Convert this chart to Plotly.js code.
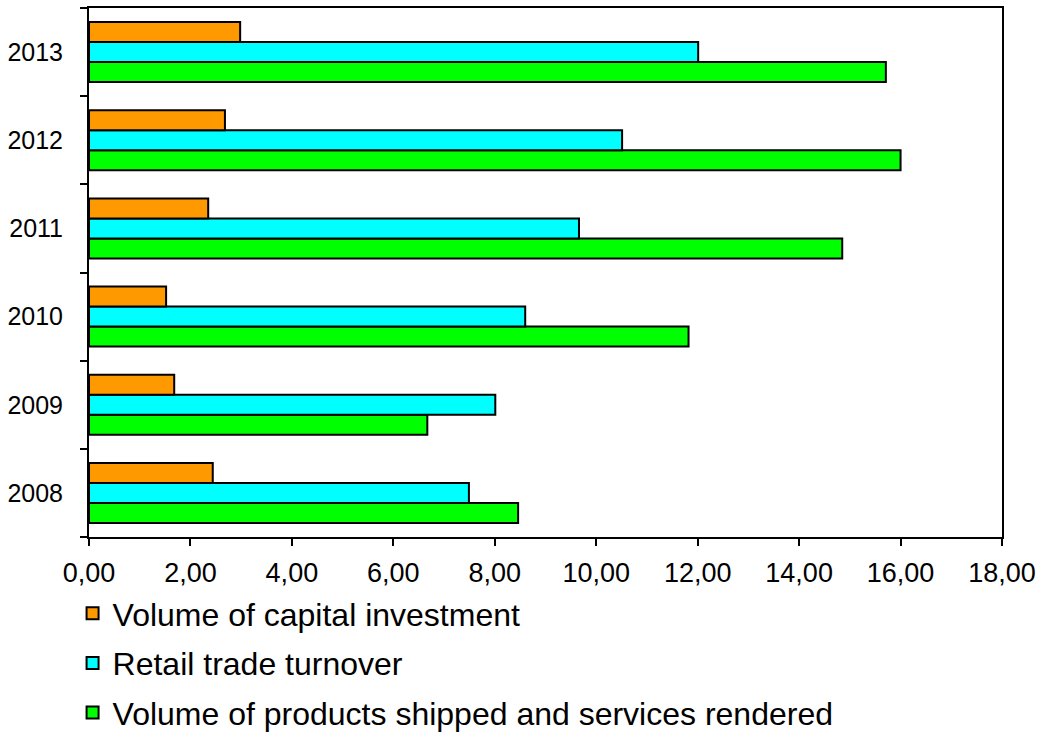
<!DOCTYPE html>
<html><head><meta charset="utf-8">
<script src="https://cdn.plot.ly/plotly-3.0.1.min.js"></script>
<style>html,body{margin:0;padding:0;background:#fff;overflow:hidden}</style>
</head><body>
<div style="width:1041px;height:737px;overflow:hidden">
<div id="chart" style="width:1041px;height:750px"></div>
</div>
<script>
const years = ["2008","2009","2010","2011","2012","2013"];
const capitalInvestment = [2.44, 1.68, 1.52, 2.35, 2.68, 2.98];
const retailTurnover = [7.49, 8.01, 8.60, 9.66, 10.51, 12.01];
const productsShipped = [8.46, 6.67, 11.82, 14.85, 16.00, 15.71];
const seriesNames = ["Volume of capital investment","Retail trade turnover","Volume of products shipped and services rendered"];
const xTicks = [0,2,4,6,8,10,12,14,16,18];

const line = {color:"#000", width:2};
const traces = [
  {type:"bar", orientation:"h", y:years, x:productsShipped, name:seriesNames[2], legendgroup:"c", legendrank:3,
   marker:{color:"#00ff00", line:line}},
  {type:"bar", orientation:"h", y:years, x:retailTurnover, name:seriesNames[1], legendgroup:"b", legendrank:2,
   marker:{color:"#00ffff", line:line}},
  {type:"bar", orientation:"h", y:years, x:capitalInvestment, name:seriesNames[0], legendgroup:"a", legendrank:1,
   marker:{color:"#ff9900", line:line}}
];
const layout = {
  width:1041, height:750,
  margin:{l:89, r:39, t:8, b:213},
  paper_bgcolor:"#fff", plot_bgcolor:"#fff",
  separators:",.",
  font:{family:"Liberation Sans, Arial, sans-serif", size:25, color:"#000"},
  barmode:"group", bargap:0.32, bargroupgap:0,
  showlegend:true,
  legend:{orientation:"v", x:-0.018, xanchor:"left", y:-0.0926, yanchor:"top",
          traceorder:"grouped", tracegroupgap:5,
          font:{size:32, color:"#000"}, bgcolor:"rgba(0,0,0,0)"},
  xaxis:{range:[0,18], tickvals:xTicks, tickformat:".2f", ticks:"outside", ticklen:7, tickwidth:2,
         tickcolor:"#000", showgrid:false, zeroline:false, showline:true, linewidth:2, linecolor:"#000",
         mirror:true, fixedrange:true, tickfont:{size:27}, ticklabelstandoff:4},
  yaxis:{type:"category", ticks:"outside", tickson:"boundaries", ticklen:7, tickwidth:2, tickcolor:"#000",
         showgrid:false, zeroline:false, showline:true, linewidth:2, linecolor:"#000", mirror:true,
         fixedrange:true, ticklabelstandoff:19}
};
Plotly.newPlot("chart", traces, layout, {displayModeBar:false, staticPlot:true});
</script>
</body></html>
